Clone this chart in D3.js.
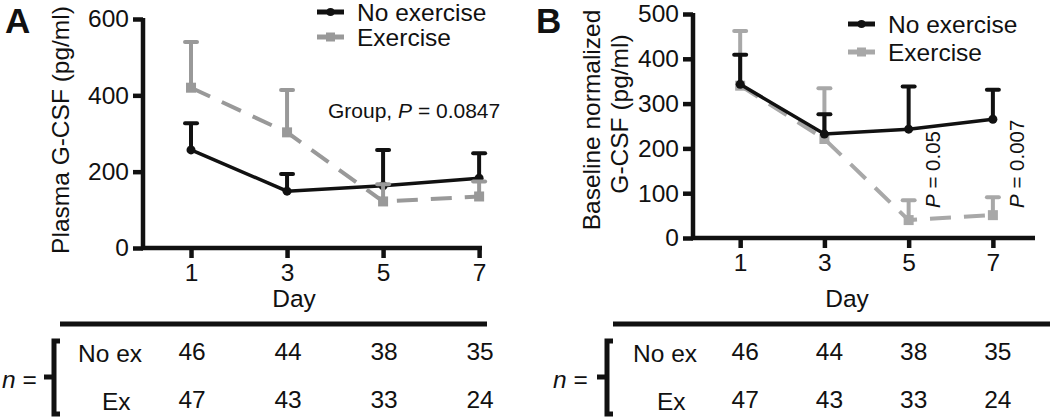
<!DOCTYPE html>
<html>
<head>
<meta charset="utf-8">
<script src="https://cdn.jsdelivr.net/npm/d3@7"></script>
<style>
  html, body { margin: 0; padding: 0; background: #fff; }
  svg { display: block; font-family: "Liberation Sans", Arial, Helvetica, sans-serif; }
</style>
</head>
<body>
<svg id="chart" width="1050" height="417"></svg>
<script>
// ---- data ----
const days = [1, 3, 5, 7];
const seriesNames = ["No exercise", "Exercise"];
const aNoExMean  = [257, 149, 163, 183];
const aNoExUpper = [327, 194, 257, 248];
const aExMean    = [420, 303, 122, 135];
const aExUpper   = [540, 414, 167, 174];
const bNoExMean  = [343, 232, 243, 265];
const bNoExUpper = [409, 276, 338, 331];
const bExMean    = [340, 221, 40, 51];
const bExUpper   = [462, 334, 84, 91];
const nNoEx = [46, 44, 38, 35];
const nEx   = [47, 43, 33, 24];
const yTicksA = [0, 200, 400, 600];
const yTicksB = [0, 100, 200, 300, 400, 500];
const rowLabels = ["No ex", "Ex"];
const pLabelsB = [{day: 5, text: "0.05"}, {day: 7, text: "0.007"}];

const BLACK = "#111";
const svg = d3.select("#chart");

function panel(cfg) {
  const g = svg.append("g");
  const x = d3.scaleLinear().domain(cfg.xDomain).range(cfg.xRange);
  const y = d3.scaleLinear().domain(cfg.yDomain).range(cfg.yRange);

  // axes
  const yAxis = d3.axisLeft(y).tickValues(cfg.yTicks).tickFormat(d3.format("d")).tickSize(10).tickPadding(4);
  const gy = g.append("g").attr("transform", `translate(${cfg.xRange[0]},0)`).call(yAxis);
  const xAxis = d3.axisBottom(x).tickValues(days).tickFormat(d3.format("d")).tickSize(10).tickPadding(6);
  const gx = g.append("g").attr("transform", `translate(0,${cfg.yRange[0]})`).call(xAxis);
  [gx, gy].forEach(a => {
    a.select(".domain").remove();
    a.selectAll(".tick line").attr("stroke", BLACK).attr("stroke-width", 4.5);
    a.selectAll(".tick text").attr("fill", BLACK).attr("font-size", 24.5)
      .attr("font-family", "Liberation Sans, Arial, sans-serif");
  });
  gx.selectAll(".tick text").attr("dy", "0.71em");
  // axis lines
  g.append("line").attr("x1", cfg.xRange[0]).attr("x2", cfg.xRange[0])
    .attr("y1", cfg.yRange[0] + 2).attr("y2", cfg.yRange[1] - 1)
    .attr("stroke", BLACK).attr("stroke-width", 4.5);
  g.append("line").attr("x1", cfg.xRange[0] - 2).attr("x2", cfg.xRange[1])
    .attr("y1", cfg.yRange[0]).attr("y2", cfg.yRange[0])
    .attr("stroke", BLACK).attr("stroke-width", 4.5);

  function drawSeries(mean, upper, color, dashed, marker) {
    const pts = days.map((d, i) => ({d, m: mean[i], u: upper[i]}));
    const s = g.append("g");
    // error bars
    s.selectAll(".eb").data(pts).join("line")
      .attr("x1", p => x(p.d)).attr("x2", p => x(p.d))
      .attr("y1", p => y(p.m)).attr("y2", p => y(p.u))
      .attr("stroke", color).attr("stroke-width", 4);
    s.selectAll(".cap").data(pts).join("line")
      .attr("x1", p => x(p.d) - 6).attr("x2", p => x(p.d) + 6)
      .attr("y1", p => y(p.u)).attr("y2", p => y(p.u))
      .attr("stroke", color).attr("stroke-width", 4).attr("stroke-linecap", "round");
    // line
    s.append("path").datum(pts)
      .attr("d", d3.line().x(p => x(p.d)).y(p => y(p.m)))
      .attr("fill", "none").attr("stroke", color).attr("stroke-width", dashed ? 4 : 3.5)
      .attr("stroke-dasharray", dashed ? "21,13" : null);
    // markers
    if (marker === "circle") {
      s.selectAll(".mk").data(pts).join("circle")
        .attr("cx", p => x(p.d)).attr("cy", p => y(p.m)).attr("r", 4.5).attr("fill", color);
    } else {
      s.selectAll(".mk").data(pts).join("rect")
        .attr("x", p => x(p.d) - 5).attr("y", p => y(p.m) - 5)
        .attr("width", 10).attr("height", 10).attr("fill", color);
    }
  }
  cfg.order.forEach(k => {
    if (k === 0) drawSeries(cfg.noMean, cfg.noUpper, BLACK, false, "circle");
    else drawSeries(cfg.exMean, cfg.exUpper, cfg.gray, true, "square");
  });

  // legend
  seriesNames.forEach((name, i) => {
    const ly = cfg.legendY[i];
    const color = i === 0 ? BLACK : cfg.gray;
    g.append("line").attr("x1", cfg.legendX).attr("x2", cfg.legendX + 27)
      .attr("y1", ly).attr("y2", ly).attr("stroke", color).attr("stroke-width", 5);
    if (i === 0) g.append("circle").attr("cx", cfg.legendX + 13.5).attr("cy", ly).attr("r", 4).attr("fill", color);
    else g.append("rect").attr("x", cfg.legendX + 9).attr("y", ly - 4.5).attr("width", 9).attr("height", 9).attr("fill", color);
    g.append("text").attr("x", cfg.legendX + 40).attr("y", ly + 8.5)
      .attr("font-size", 24.5).attr("fill", BLACK).text(name);
  });

  // x label
  g.append("text").attr("x", cfg.dayX).attr("y", 307).attr("text-anchor", "middle")
    .attr("font-size", 24.5).attr("fill", BLACK).text("Day");

  // panel letter
  g.append("text").attr("x", cfg.letterX).attr("y", 33).attr("font-size", 35)
    .attr("font-weight", "bold").attr("fill", BLACK).text(cfg.letter);

  // table
  g.append("line").attr("x1", cfg.tableX1).attr("x2", cfg.tableX2).attr("y1", 324).attr("y2", 324)
    .attr("stroke", BLACK).attr("stroke-width", 5);
  [nNoEx, nEx].forEach((row, r) => {
    g.selectAll(null).data(row).join("text")
      .attr("x", (v, i) => x(days[i]) + cfg.colShift).attr("y", r === 0 ? 360 : 408)
      .attr("text-anchor", "middle").attr("font-size", 24.5).attr("fill", BLACK).text(v => v);
  });
  g.append("text").attr("x", cfg.rowLabelX).attr("y", 362).attr("font-size", 24.5).attr("fill", BLACK).text(rowLabels[0]);
  g.append("text").attr("x", cfg.rowLabelX + 24).attr("y", 410).attr("font-size", 24.5).attr("fill", BLACK).text(rowLabels[1]);
  const nt = g.append("text").attr("x", cfg.nX).attr("y", 388).attr("font-size", 24.5).attr("fill", BLACK);
  nt.append("tspan").attr("font-style", "italic").text("n");
  nt.append("tspan").text(" =");
  const bx = cfg.braceX;
  g.append("path")
    .attr("d", `M${bx + 10},341 L${bx + 4},341 L${bx + 4},414 L${bx + 10},414`)
    .attr("fill", "none").attr("stroke", BLACK).attr("stroke-width", 5);
  g.append("path").attr("d", `M${bx - 6},377 L${bx + 4},377`).attr("stroke", BLACK).attr("stroke-width", 5);

  return {g, x, y};
}

// ---- Panel A ----
const A = panel({
  letter: "A", letterX: 5,
  xDomain: [0, 7.06], xRange: [143, 482],
  yDomain: [0, 600], yRange: [248, 19], yTicks: yTicksA,
  noMean: aNoExMean, noUpper: aNoExUpper, exMean: aExMean, exUpper: aExUpper,
  gray: "#999", order: [0, 1],
  legendX: 317, legendY: [12, 37],
  dayX: 294, tableX1: 60, tableX2: 487, colShift: 1, rowLabelX: 78, nX: 2, braceX: 50
});
A.g.append("text").attr("transform", `translate(69,130) rotate(-90)`).attr("text-anchor", "middle")
  .attr("font-size", 24.5).attr("fill", BLACK).text("Plasma G-CSF (pg/ml)");
const gt = A.g.append("text").attr("x", 328).attr("y", 118).attr("font-size", 21).attr("fill", BLACK);
gt.append("tspan").text("Group, ");
gt.append("tspan").attr("font-style", "italic").text("P");
gt.append("tspan").text(" = 0.0847");

// ---- Panel B ----
const B = panel({
  letter: "B", letterX: 536,
  xDomain: [-0.12, 8], xRange: [693, 1035],
  yDomain: [0, 500], yRange: [238, 14], yTicks: yTicksB,
  noMean: bNoExMean, noUpper: bNoExUpper, exMean: bExMean, exUpper: bExUpper,
  gray: "#a8a8a8", order: [1, 0],
  legendX: 848, legendY: [24, 52],
  dayX: 847, tableX1: 613, tableX2: 1050, colShift: 5, rowLabelX: 633, nX: 553, braceX: 603
});
B.g.append("text").attr("transform", `translate(600,120) rotate(-90)`).attr("text-anchor", "middle")
  .attr("font-size", 24.5).attr("fill", BLACK).text("Baseline normalized");
B.g.append("text").attr("transform", `translate(628,114) rotate(-90)`).attr("text-anchor", "middle")
  .attr("font-size", 24.5).attr("fill", BLACK).text("G-CSF (pg/ml)");
pLabelsB.forEach(p => {
  const t = B.g.append("text")
    .attr("transform", `translate(${B.x(p.day) + 31},208) rotate(-90)`)
    .attr("font-size", 20.5).attr("fill", BLACK);
  t.append("tspan").attr("font-style", "italic").text("P");
  t.append("tspan").text(" = " + p.text);
});
</script>
</body>
</html>
